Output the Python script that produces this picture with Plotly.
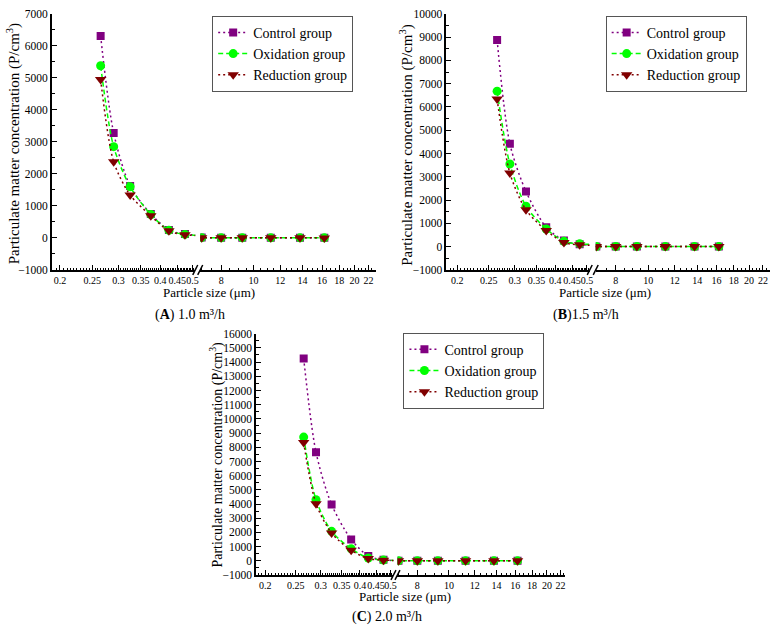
import numpy as np
import plotly.graph_objects as go

# ---------------- data ----------------
size_small = [0.265, 0.29, 0.325, 0.375, 0.425, 0.475]
size_large = [7.0, 8.0, 9.25, 11.25, 13.75, 16.25]
series_names = ["Control group", "Oxidation group", "Reduction group"]

control_A = [6310, 3280, 1620, 750, 250, 120, 10, 6, 5, 4, 3, 2]
oxidation_A = [5380, 2850, 1600, 730, 240, 110, 8, 5, 4, 3, 2, 2]
reduction_A = [4950, 2380, 1340, 690, 220, 100, 6, 4, 3, 2, 2, 1]

control_B = [8880, 4420, 2370, 830, 260, 100, 10, 6, 5, 4, 3, 2]
oxidation_B = [6680, 3550, 1740, 760, 230, 120, 8, 5, 4, 3, 2, 2]
reduction_B = [6340, 3160, 1580, 690, 180, 80, 6, 4, 3, 2, 2, 1]

control_C = [14260, 7650, 3970, 1510, 350, 80, 10, 6, 5, 4, 3, 2]
oxidation_C = [8720, 4310, 2080, 850, 200, 60, 8, 5, 4, 3, 2, 2]
reduction_C = [8330, 4030, 1960, 750, 160, 50, 6, 4, 3, 2, 2, 1]

ticks_small = [0.2, 0.25, 0.3, 0.35, 0.4, 0.45, 0.5]
ticks_large = [8, 10, 12, 14, 16, 18, 20, 22]

# ---------------- styling ----------------
W, H = 778, 636
FONT = "Liberation Serif, serif"
styles = [
    dict(color="#800080", dash="2px,3px", symbol="square", size=8),
    dict(color="#00ff00", dash="5px,3px", symbol="circle", size=9),
    dict(color="#800000", dash="2px,3px", symbol="triangle-down", size=10),
]


def px(x):
    return x / W


def py(y):
    return 1 - y / H


panels = [
    dict(data=[control_A, oxidation_A, reduction_A], yr=[-1000, 7000], ytop=8, ybot=269,
         L=(52, 196), R=(201, 377), lr=(0.189, 0.51), rr=(6.93, 23.1),
         leg=(213, 10), xt=(210, 292), yt=(13, 140), ytf=14,
         cap=(191, 315, "(<b>A</b>) 1.0 m³/h")),
    dict(data=[control_B, oxidation_B, reduction_B], yr=[-1000, 10000], ytop=8, ybot=269,
         L=(448, 592), R=(598, 773), lr=(0.185, 0.51), rr=(6.97, 23.1),
         leg=(608, 10), xt=(607, 292), yt=(408, 142), ytf=14,
         cap=(588, 315, "(<b>B</b>)1.5 m³/h")),
    dict(data=[control_C, oxidation_C, reduction_C], yr=[-1000, 16000], ytop=334, ybot=580,
         L=(257, 395), R=(399, 567), lr=(0.187, 0.511), rr=(6.95, 22.7),
         leg=(405, 333), xt=(407, 602), yt=(217, 457), ytf=13,
         cap=(388, 623, "(<b>C</b>) 2.0 m³/h")),
]

fig = go.Figure()
layout = dict(
    width=W, height=H, margin=dict(l=0, r=0, t=0, b=0),
    paper_bgcolor="white", plot_bgcolor="white",
    font=dict(family=FONT, color="black"),
    showlegend=True,
)
annotations = []
shapes = []

minor_small = [round(v, 3) for v in np.arange(0.19, 0.5101, 0.005)]
minor_large = [round(v, 2) for v in np.arange(7.0, 23.01, 0.5)]

for i, p in enumerate(panels):
    xl = "x" if i == 0 else f"x{2 * i + 1}"
    xr = f"x{2 * i + 2}"
    yn = "y" if i == 0 else f"y{i + 1}"
    xl_key = "xaxis" if i == 0 else f"xaxis{2 * i + 1}"
    xr_key = f"xaxis{2 * i + 2}"
    y_key = "yaxis" if i == 0 else f"yaxis{i + 1}"
    leg_key = "legend" if i == 0 else f"legend{i + 1}"
    n_small = len(size_small)

    for s, (vals, st, name) in enumerate(zip(p["data"], styles, series_names)):
        left_y = vals[:n_small]
        right_y = vals[n_small:]
        common = dict(
            mode="lines+markers", name=name,
            line=dict(color=st["color"], dash=st["dash"], width=1.5, shape="spline", smoothing=0.8),
            marker=dict(symbol=st["symbol"], size=st["size"], color=st["color"],
                        line=dict(width=0)),
            legend=leg_key, hoverinfo="skip",
        )
        fig.add_trace(go.Scatter(
            x=size_small + size_large[:1], y=left_y + right_y[:1],
            xaxis=xl, yaxis=yn, showlegend=True, **common))
        fig.add_trace(go.Scatter(
            x=size_small[-1:] + size_large, y=left_y[-1:] + right_y,
            xaxis=xr, yaxis=yn, showlegend=False, **common))

    ydom = [py(p["ybot"]), py(p["ytop"])]
    axis_common = dict(
        type="log", showline=True, linecolor="black", linewidth=1.5, mirror=False,
        ticks="inside", ticklen=5, tickwidth=1, tickcolor="black", tickangle=0,
        showgrid=False, zeroline=False, anchor=yn,
        tickfont=dict(family=FONT, size=10, color="black"),
    )
    minor_common = dict(ticks="inside", ticklen=2.5, tickwidth=1, tickcolor="black", showgrid=False)
    layout[xl_key] = dict(
        domain=[px(p["L"][0]), px(p["L"][1])],
        range=[np.log10(p["lr"][0]), np.log10(p["lr"][1])],
        tickmode="array", tickvals=ticks_small, ticktext=[f"{t:g}" for t in ticks_small],
        minor=dict(minor_common, tickmode="array", tickvals=minor_small),
        **axis_common,
    )
    layout[xr_key] = dict(
        domain=[px(p["R"][0]), px(p["R"][1])],
        range=[np.log10(p["rr"][0]), np.log10(p["rr"][1])],
        tickmode="array", tickvals=ticks_large, ticktext=[str(t) for t in ticks_large],
        minor=dict(minor_common, tickmode="array", tickvals=minor_large),
        **axis_common,
    )
    layout[y_key] = dict(
        domain=ydom, range=p["yr"], anchor=xl,
        showline=True, linecolor="black", linewidth=1.5,
        ticks="inside", ticklen=5, tickwidth=1, tickcolor="black",
        tickmode="linear", dtick=1000, tick0=0, tickformat="d",
        showgrid=False, zeroline=False,
        tickfont=dict(family=FONT, size=11.5, color="black"),
        minor=dict(ticks="inside", ticklen=3, tickwidth=1, tickcolor="black", dtick=500, showgrid=False),
    )
    layout[leg_key] = dict(
        x=px(p["leg"][0]), y=py(p["leg"][1]), xanchor="left", yanchor="top",
        bgcolor="white", bordercolor="#555555", borderwidth=1,
        font=dict(family="Liberation Serif", size=14, color="black"),
        itemwidth=30, tracegroupgap=0, itemsizing="trace",
    )
    # axis titles and captions
    annotations.append(dict(
        text="Particle size (μm)", x=px(p["xt"][0]), y=py(p["xt"][1]), xref="paper", yref="paper",
        showarrow=False, xanchor="center", yanchor="middle",
        font=dict(family=FONT, size=13, color="black")))
    annotations.append(dict(
        text="Particulate matter concentration (P/cm<sup>3</sup>)", textangle=-90,
        x=px(p["yt"][0]), y=py(p["yt"][1]), xref="paper", yref="paper",
        showarrow=False, xanchor="center", yanchor="middle",
        font=dict(family=FONT, size=p["ytf"] + 1, color="black")))
    annotations.append(dict(
        text=p["cap"][2], x=px(p["cap"][0]), y=py(p["cap"][1]), xref="paper", yref="paper",
        showarrow=False, xanchor="center", yanchor="middle",
        font=dict(family=FONT, size=14, color="black")))
    # axis break marks "//"
    yb = p["ybot"]
    for xc in (p["L"][1], p["R"][0]):
        shapes.append(dict(type="line", xref="paper", yref="paper",
                           x0=px(xc - 2.5), y0=py(yb + 5), x1=px(xc + 2.5), y1=py(yb - 5),
                           line=dict(color="black", width=1.5)))

layout["annotations"] = annotations
layout["shapes"] = shapes
fig.update_layout(**layout)
fig.write_html("out.html")
